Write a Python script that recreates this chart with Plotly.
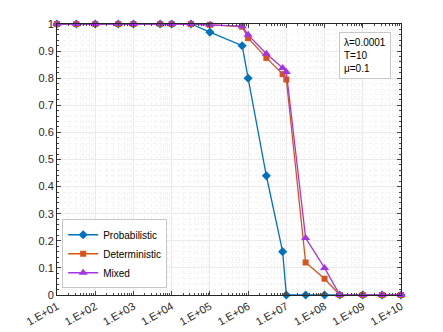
import plotly.graph_objects as go

x_vals = [1e1, 3.2e1, 1e2, 4e2, 1e3, 5e3, 1e4, 3.2e4, 1e5, 7e5, 1e6, 3e6, 8e6,
          1e7, 3.2e7, 1e8, 2.5e8, 1e9, 3.2e9, 1e10]
probabilistic = [1, 1, 1, 1, 1, 1, 1, 1, 0.97, 0.92, 0.80, 0.44, 0.16,
                 0, 0, 0, 0, 0, 0, 0]
deterministic = [1, 1, 1, 1, 1, 1, 1, 1, 0.997, 0.99, 0.948, 0.875, 0.815,
                 0.795, 0.12, 0.06, 0, 0, 0, 0]
mixed = [1, 1, 1, 1, 1, 1, 1, 1, 0.997, 0.992, 0.96, 0.89, 0.838,
         0.823, 0.21, 0.10, 0, 0, 0, 0]

tick_vals = [10 ** k for k in range(1, 11)]
tick_text = ["1.E+%02d" % k for k in range(1, 11)]
y_ticks = [round(0.1 * i, 1) for i in range(11)]
y_text = ["0", "0.1", "0.2", "0.3", "0.4", "0.5", "0.6", "0.7", "0.8", "0.9", "1"]

minor_x = [m * 10 ** k for k in range(1, 10) for m in range(2, 10)]

series = [
    ("Probabilistic", probabilistic, "#0072BD", "diamond", 7),
    ("Deterministic", deterministic, "#D95319", "square", 6),
    ("Mixed", mixed, "#A534E6", "triangle-up", 8),
]

fig = go.Figure()
for name, ys, color, symbol, size in series:
    fig.add_trace(
        go.Scatter(
            x=x_vals,
            y=ys,
            name=name,
            mode="lines+markers",
            line=dict(color=color, width=1.3),
            marker=dict(symbol=symbol, size=size, color=color),
            cliponaxis=False,
        )
    )

fig.update_xaxes(
    type="log",
    range=[1, 10],
    automargin=False,
    tickmode="array",
    tickvals=tick_vals,
    ticktext=tick_text,
    tickangle=-30,
    ticks="inside",
    ticklen=4,
    mirror="allticks",
    showline=True,
    linecolor="#262626",
    linewidth=1,
    showgrid=True,
    gridcolor="#ebebeb",
    zeroline=False,
    minor=dict(tickmode="array", tickvals=minor_x, ticks="inside", ticklen=2,
               showgrid=True, gridcolor="#f3f3f3", griddash="dot"),
    tickfont=dict(size=11, color="#262626"),
)
fig.update_yaxes(
    range=[0, 1],
    automargin=False,
    tickmode="array",
    tickvals=y_ticks,
    ticktext=y_text,
    ticks="inside",
    ticklen=4,
    mirror="allticks",
    showline=True,
    linecolor="#262626",
    linewidth=1,
    showgrid=True,
    gridcolor="#ebebeb",
    zeroline=False,
    minor=dict(dtick=0.02, ticks="inside", ticklen=2, showgrid=True,
               gridcolor="#f3f3f3", griddash="dot"),
    tickfont=dict(size=11, color="#262626"),
)

fig.add_annotation(
    xref="paper", yref="paper", x=0.97, y=0.97, xanchor="right", yanchor="top",
    text="λ=0.0001<br>T=10<br>μ=0.1",
    showarrow=False, align="left",
    font=dict(family="Liberation Sans, Arial", size=10, color="black"),
    bgcolor="white", bordercolor="#c8c8c8", borderwidth=1, borderpad=4,
)

# page body adds ~8px offset, so the figure is a bit smaller than the window
fig.update_layout(
    width=435,
    height=324,
    margin=dict(l=49, r=42, t=16, b=37),
    paper_bgcolor="white",
    plot_bgcolor="white",
    font=dict(family="Liberation Sans, Arial", size=10, color="#262626"),
    showlegend=True,
    legend=dict(
        x=0.015, y=0.025, xanchor="left", yanchor="bottom",
        bgcolor="white", bordercolor="#c8c8c8", borderwidth=1,
        font=dict(size=10, color="black"),
        itemwidth=30, tracegroupgap=0,
    ),
)

fig.write_html("out.html")
